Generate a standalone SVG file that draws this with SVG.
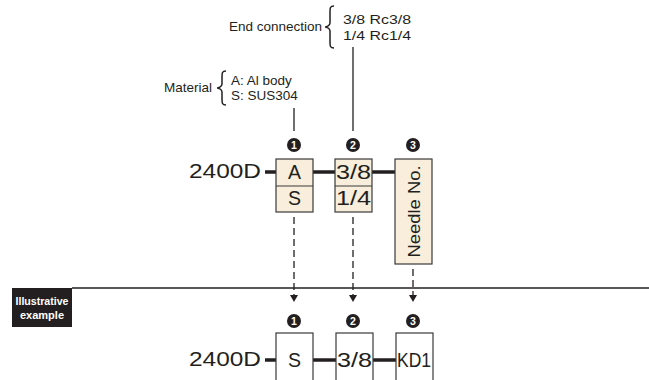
<svg xmlns="http://www.w3.org/2000/svg" width="649" height="380" viewBox="0 0 649 380">
<defs>
<style>
.lbl{font-family:"Liberation Sans",Arial,sans-serif;font-size:13.5px;fill:#231f20}
.code{font-family:"Liberation Sans",Arial,sans-serif;font-size:19.5px;fill:#231f20}
.num{font-family:"Liberation Sans",Arial,sans-serif;font-size:10.5px;font-weight:bold;fill:#fff;text-anchor:middle}
.box{fill:#f8eedb;stroke:#3a3a3a;stroke-width:1.2}
.wbox{fill:#fff;stroke:#3a3a3a;stroke-width:1.2}
.thick{stroke:#231f20;stroke-width:3.5;fill:none}
.thin{stroke:#231f20;stroke-width:1.3;fill:none}
.dash{stroke:#231f20;stroke-width:1.3;fill:none;stroke-dasharray:7 4}
.brace{stroke:#231f20;stroke-width:1.5;fill:none}
</style>
</defs>

<g id="connectors">
<line class="thin" x1="353" y1="47" x2="353" y2="131"/>
<line class="thin" x1="294" y1="108" x2="294" y2="131"/>
<line class="thick" x1="265" y1="172" x2="276" y2="172"/>
<line class="thick" x1="313" y1="172" x2="335" y2="172"/>
<line class="thick" x1="372" y1="172" x2="395" y2="172"/>
<line class="dash" x1="294" y1="217" x2="294" y2="296"/>
<line class="dash" x1="353" y1="217" x2="353" y2="296"/>
<line class="dash" x1="413" y1="269" x2="413" y2="296"/>
<path d="M290,295 L298,295 L294,302 Z" fill="#231f20"/>
<path d="M349,295 L357,295 L353,302 Z" fill="#231f20"/>
<path d="M409,295 L417,295 L413,302 Z" fill="#231f20"/>
<line class="thin" x1="72" y1="288" x2="649" y2="288"/>
<line class="thick" x1="265" y1="360" x2="276" y2="360"/>
<line class="thick" x1="313" y1="360" x2="336" y2="360"/>
<line class="thick" x1="373" y1="360" x2="396" y2="360"/>
</g>

<g id="end-connection-label">
<text class="lbl" x="322" y="31" text-anchor="end">End connection</text>
<path class="brace" d="M334,6 C330,6 330,8 330,12 L330,23 C330,26 326,27 325,27 C326,27 330,28 330,31 L330,42 C330,46 330,48 334,48"/>
<text class="lbl" x="343" y="24" textLength="68" lengthAdjust="spacingAndGlyphs">3/8 Rc3/8</text>
<text class="lbl" x="343" y="40" textLength="68" lengthAdjust="spacingAndGlyphs">1/4 Rc1/4</text>
</g>

<g id="material-label">
<text class="lbl" x="212" y="92" text-anchor="end">Material</text>
<path class="brace" d="M226,71 C222,71 222,73 222,77 L222,84 C222,87 218,88 217,88 C218,88 222,89 222,92 L222,99 C222,103 222,105 226,105"/>
<text class="lbl" x="231" y="85">A: Al body</text>
<text class="lbl" x="231" y="100">S: SUS304</text>
</g>

<g id="top-model">
<text class="code" x="189" y="178" textLength="72" lengthAdjust="spacingAndGlyphs">2400D</text>
</g>

<g id="top-n1">
<circle cx="294" cy="145" r="7" fill="#231f20"/>
<text class="num" x="294" y="148.8">1</text>
</g>
<g id="top-n2">
<circle cx="353" cy="145" r="7" fill="#231f20"/>
<text class="num" x="353" y="148.8">2</text>
</g>
<g id="top-n3">
<circle cx="413" cy="145" r="7" fill="#231f20"/>
<text class="num" x="413" y="148.8">3</text>
</g>

<g id="box-material">
<rect class="box" x="276" y="159" width="37" height="53"/>
<line stroke="#3a3a3a" stroke-width="1" x1="276" y1="186" x2="313" y2="186"/>
<text class="code" x="294.5" y="179" text-anchor="middle">A</text>
<text class="code" x="294.5" y="205" text-anchor="middle">S</text>
</g>

<g id="box-end">
<rect class="box" x="335" y="159" width="37" height="53"/>
<line stroke="#3a3a3a" stroke-width="1" x1="335" y1="186" x2="372" y2="186"/>
<text class="code" x="336" y="179" textLength="35" lengthAdjust="spacingAndGlyphs">3/8</text>
<text class="code" x="336" y="205" textLength="35" lengthAdjust="spacingAndGlyphs">1/4</text>
</g>

<g id="box-needle">
<rect class="box" x="395" y="159" width="37" height="105"/>
<text transform="translate(419.5,211.5) rotate(-90)" text-anchor="middle" style="font-family:'Liberation Sans',Arial,sans-serif;font-size:17px;fill:#231f20" textLength="92" lengthAdjust="spacingAndGlyphs">Needle No.</text>
</g>

<g id="illustrative-tag">
<rect x="12" y="288" width="60" height="39" fill="#231f20"/>
<text x="42" y="305" text-anchor="middle" fill="#fff" style="font-family:'Liberation Sans',Arial,sans-serif;font-size:11px;font-weight:bold" textLength="53" lengthAdjust="spacingAndGlyphs">Illustrative</text>
<text x="42" y="319" text-anchor="middle" fill="#fff" style="font-family:'Liberation Sans',Arial,sans-serif;font-size:11px;font-weight:bold">example</text>
</g>

<g id="bottom-model">
<text class="code" x="189" y="366" textLength="72" lengthAdjust="spacingAndGlyphs">2400D</text>
</g>

<g id="bottom-n1">
<circle cx="294" cy="321" r="7" fill="#231f20"/>
<text class="num" x="294" y="324.8">1</text>
</g>
<g id="bottom-n2">
<circle cx="353" cy="321" r="7" fill="#231f20"/>
<text class="num" x="353" y="324.8">2</text>
</g>
<g id="bottom-n3">
<circle cx="413" cy="321" r="7" fill="#231f20"/>
<text class="num" x="413" y="324.8">3</text>
</g>

<g id="box-s">
<rect class="wbox" x="276" y="333" width="37" height="60"/>
<text class="code" x="294.5" y="367" text-anchor="middle">S</text>
</g>
<g id="box-38">
<rect class="wbox" x="336" y="333" width="37" height="60"/>
<text class="code" x="337" y="367" textLength="35" lengthAdjust="spacingAndGlyphs">3/8</text>
</g>
<g id="box-kd1">
<rect class="wbox" x="396" y="333" width="37" height="60"/>
<text class="code" x="397" y="367" textLength="34" lengthAdjust="spacingAndGlyphs">KD1</text>
</g>
</svg>
